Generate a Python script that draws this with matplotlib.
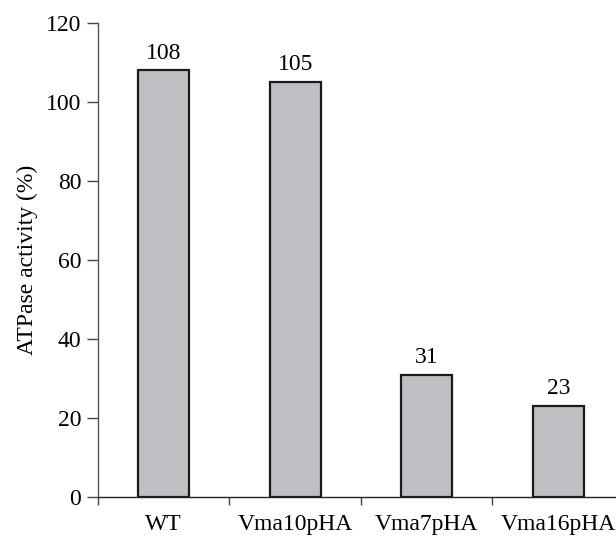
import numpy as np
import matplotlib.pyplot as plt

strains = ["WT", "Vma10pHA", "Vma7pHA", "Vma16pHA"]
activity = [108, 105, 31, 23]

plt.rcParams['font.family'] = ['Liberation Serif', 'DejaVu Serif']

fig = plt.figure(figsize=(6.16, 5.37), dpi=100)
ax = fig.add_axes([0.159, 0.0745, 0.854, 0.8825])

x = np.arange(len(strains))
ax.bar(x, activity, width=0.39, color="#bebfc3", edgecolor="#1a1a1a", linewidth=1.6)

for xi, v in zip(x, activity):
    ax.annotate(str(v), (xi, v), xytext=(0, 5), textcoords="offset points",
                ha="center", va="bottom", fontsize=17)

ax.set_xlim(-0.5, 3.5)
ax.set_ylim(0, 120)
ax.set_yticks(np.arange(0, 121, 20))
ax.set_ylabel("ATPase activity (%)", fontsize=17, labelpad=6)

ax.set_xticks(x)
ax.set_xticklabels(strains, fontsize=17)
ax.tick_params(axis="x", which="major", length=0, pad=12)
ax.set_xticks(np.arange(-0.5, 3.0, 1.0), minor=True)
ax.tick_params(axis="x", which="minor", length=6, width=1.0, color="#444444")
ax.tick_params(axis="y", labelsize=17, length=8, width=1.0, color="#444444", pad=4)

for s in ["top", "right"]:
    ax.spines[s].set_visible(False)
ax.spines["left"].set_color("#555555")
ax.spines["left"].set_linewidth(1.0)
ax.spines["bottom"].set_color("#222222")
ax.spines["bottom"].set_linewidth(1.0)

fig.savefig("out.png", dpi=100)
